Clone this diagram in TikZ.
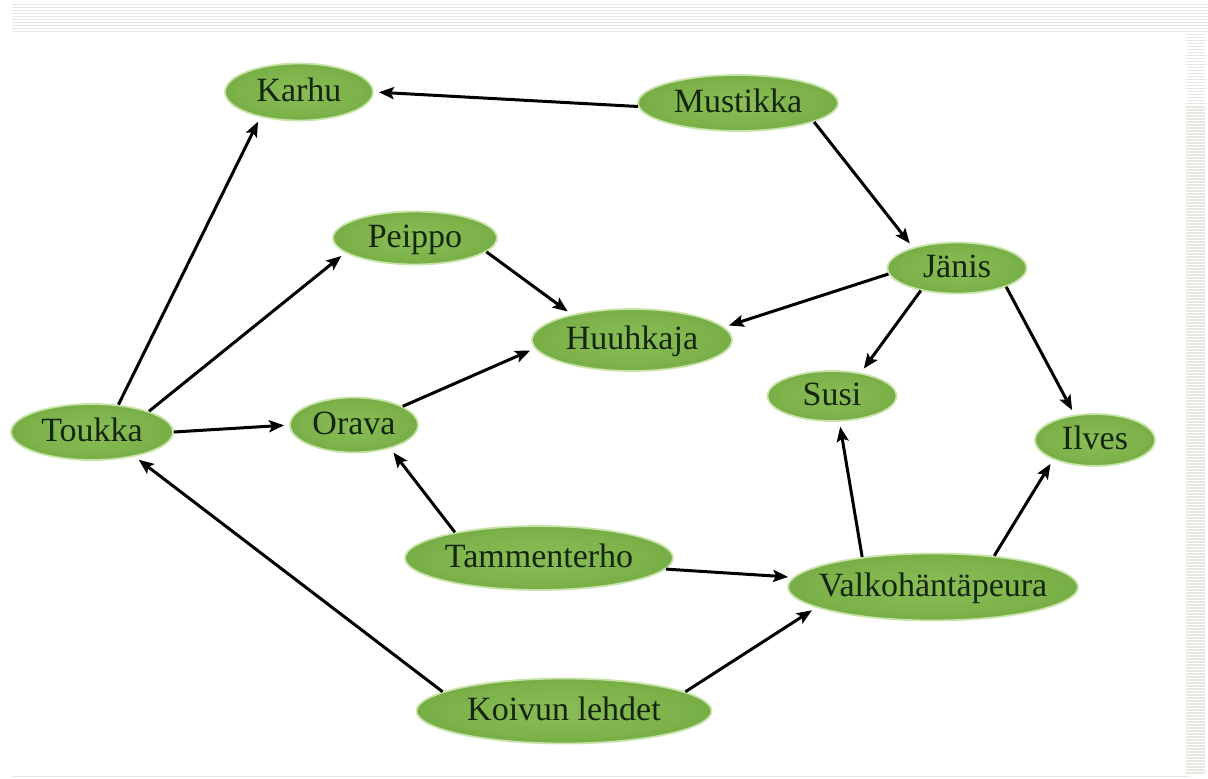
\documentclass[tikz,border=0pt]{standalone}
\usepackage{fontspec}
\setmainfont{Liberation Serif}
\usetikzlibrary{shapes.geometric,arrows.meta}
\definecolor{glow}{RGB}{200,228,170}
\definecolor{txt}{RGB}{20,38,12}
\definecolor{stripe}{RGB}{229,232,225}
\pgfdeclareradialshading{leafshade}{\pgfpoint{0bp}{0bp}}{%
  rgb(0bp)=(0.54,0.74,0.34);
  rgb(20bp)=(0.49,0.70,0.29);
  rgb(38bp)=(0.40,0.62,0.22);
  rgb(50bp)=(0.30,0.53,0.15)}
\begin{document}
\begin{tikzpicture}[x=1bp,y=-1bp,
  species/.style={ellipse, inner sep=0pt, shading=leafshade,
    draw=glow, line width=1.8bp, text=txt,
    font=\fontsize{34bp}{36bp}\selectfont, text height=24bp, text depth=5bp},
  eat/.style={line width=3bp, -{Stealth[length=15bp,width=12bp,inset=3bp]}, shorten >=5bp}]
\useasboundingbox (0,0) rectangle (1208,779);
\fill[white] (0,0) rectangle (1208,779);
% striped frame
\foreach \y in {4,7,...,31} \fill[stripe] (12,\y) rectangle (1208,\y+1.5);
\foreach \y in {34,37,...,774} \fill[stripe] (1186,\y) rectangle (1205,\y+1.5);
\fill[stripe] (12,775.5) rectangle (1190,777);
% nodes
\node[species, minimum width=148bp, minimum height=57bp] (karhu) at (299,92) {\makebox[0pt]{Karhu}};
\node[species, minimum width=200bp, minimum height=56bp] (mustikka) at (738,103) {\makebox[0pt]{Mustikka}};
\node[species, minimum width=164bp, minimum height=53bp] (peippo) at (415,238) {\makebox[0pt]{Peippo}};
\node[species, minimum width=139bp, minimum height=51bp] (janis) at (957,268) {\makebox[0pt]{Jänis}};
\node[species, minimum width=200bp, minimum height=62bp] (huuhkaja) at (632,340) {\makebox[0pt]{Huuhkaja}};
\node[species, minimum width=129bp, minimum height=50bp] (susi) at (832,396) {\makebox[0pt]{Susi}};
\node[species, minimum width=120bp, minimum height=52bp] (ilves) at (1095,440) {\makebox[0pt]{Ilves}};
\node[species, minimum width=162bp, minimum height=56bp] (toukka) at (92,432) {\makebox[0pt]{Toukka}};
\node[species, minimum width=128bp, minimum height=55bp] (orava) at (354,425) {\makebox[0pt]{Orava}};
\node[species, minimum width=268bp, minimum height=64bp] (tammenterho) at (539,558) {\makebox[0pt]{Tammenterho}};
\node[species, minimum width=290bp, minimum height=67bp] (valko) at (933,587) {\makebox[0pt]{Valkohäntäpeura}};
\node[species, minimum width=295bp, minimum height=65bp] (koivun) at (564,711) {\makebox[0pt]{Koivun lehdet}};
% feeding relations
\draw[eat] (mustikka.182) -- (karhu.0);
\draw[eat] (mustikka.-14) -- (janis.155);
\draw[eat] (toukka.46) -- (karhu.213);
\draw[eat] (toukka.20) -- (peippo.192);
\draw[eat] (toukka.0) -- (orava.180);
\draw[eat] (peippo.-11) -- (huuhkaja.157);
\draw[eat] (orava.21) -- (huuhkaja.185);
\draw[eat] (janis.185) -- (huuhkaja.8);
\draw[eat] (janis.212) -- (susi.39);
\draw[eat] (janis.339) -- (ilves.129);
\draw[eat] (tammenterho.163) -- (orava.327);
\draw[eat] (tammenterho.355) -- (valko.176);
\draw[eat] (koivun.171) -- (toukka.330);
\draw[eat] (koivun.9) -- (valko.190);
\draw[eat] (valko.157) -- (susi.286);
\draw[eat] (valko.27) -- (ilves.205);
\end{tikzpicture}
\end{document}
